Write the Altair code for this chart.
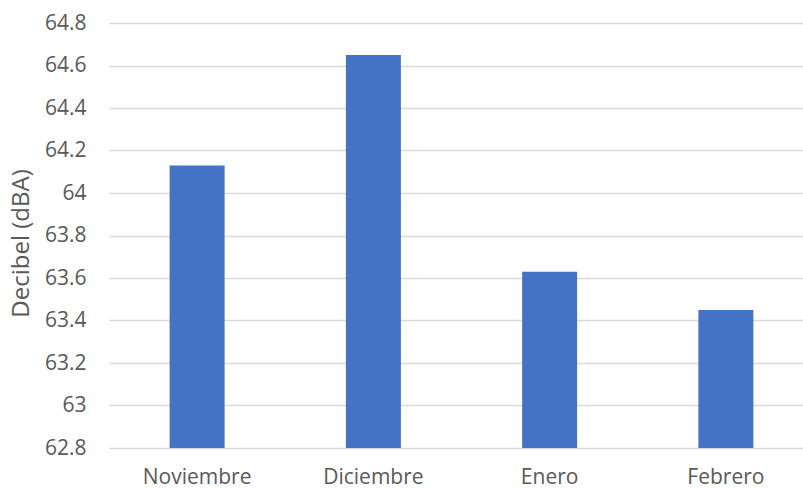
import altair as alt
import pandas as pd

# Monthly average noise level
months = ["Noviembre", "Diciembre", "Enero", "Febrero"]
decibels = [64.13, 64.65, 63.63, 63.45]
y_ticks = [62.8, 63.0, 63.2, 63.4, 63.6, 63.8, 64.0, 64.2, 64.4, 64.6, 64.8]

df = pd.DataFrame({"mes": months, "db": decibels})

FONT = "Open Sans"
TEXT = "#595959"

chart = (
    alt.Chart(df)
    .mark_bar(color="#4472C4", clip=True)
    .encode(
        x=alt.X(
            "mes:N",
            sort=months,
            title=None,
            scale=alt.Scale(range=[0, 705], paddingInner=0.688, paddingOuter=0.344),
            axis=alt.Axis(
                domain=False,
                ticks=False,
                grid=False,
                labelAngle=0,
                labelFont=FONT,
                labelFontSize=21,
                labelColor=TEXT,
                labelPadding=18,
            ),
        ),
        y=alt.Y(
            "db:Q",
            title="Decibel (dBA)",
            scale=alt.Scale(domain=[62.8, 64.8], zero=False, nice=False),
            axis=alt.Axis(
                values=y_ticks,
                labelExpr="format(datum.value, '.1~f')",
                domain=False,
                ticks=False,
                gridColor="#d9d9d9",
                gridWidth=1.3,
                labelFont=FONT,
                labelFontSize=21,
                labelColor=TEXT,
                labelPadding=23,
                titleFont=FONT,
                titleFontSize=24,
                titleFontWeight="normal",
                titleColor=TEXT,
                titleAngle=-90,
                titleX=-88,
                titleY=220,
                titleAlign="center",
                titleBaseline="middle",
            ),
        ),
    )
    .properties(
        width=694,
        height=425,
        padding={"left": 109, "top": 23, "right": 0, "bottom": 40},
        autosize=alt.AutoSizeParams(type="none"),
    )
    .configure_view(stroke=None)
)

chart.save("out.html", embed_options={"renderer": "svg", "actions": False})
